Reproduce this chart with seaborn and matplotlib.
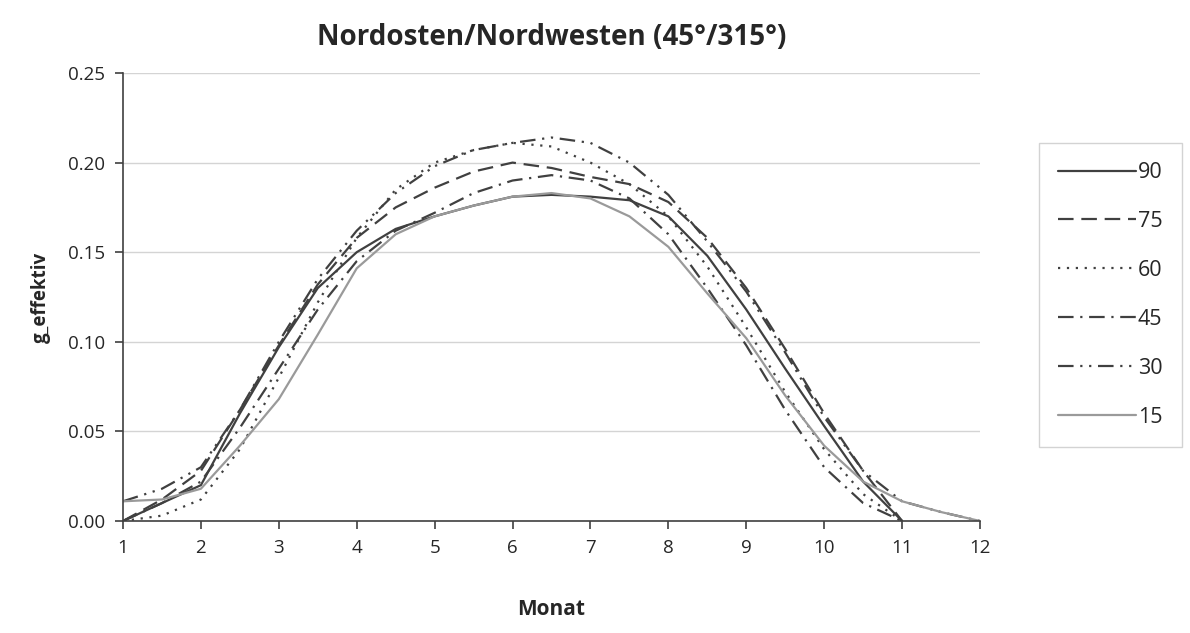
import numpy as np
import pandas as pd
import seaborn as sns
import matplotlib.pyplot as plt

# half-month steps
months = [1, 1.5, 2, 2.5, 3, 3.5, 4, 4.5, 5, 5.5, 6, 6.5, 7, 7.5, 8, 8.5, 9, 9.5, 10, 10.5, 11, 11.5, 12]

g_90 = [0.0, 0.010, 0.020, 0.060, 0.097, 0.130, 0.150, 0.163, 0.170, 0.176, 0.181, 0.182, 0.181,
        0.179, 0.170, 0.148, 0.118, 0.085, 0.053, 0.022, 0.0, None, None]
g_75 = [0.0, 0.012, 0.028, 0.062, 0.098, 0.132, 0.158, 0.175, 0.186, 0.195, 0.200, 0.197, 0.192,
        0.188, 0.178, 0.158, 0.130, 0.096, 0.060, 0.028, 0.0, None, None]
g_60 = [0.0, 0.003, 0.012, 0.040, 0.080, 0.122, 0.158, 0.185, 0.200, 0.207, 0.211, 0.209, 0.200,
        0.188, 0.170, 0.142, 0.108, 0.072, 0.040, 0.015, 0.0, None, None]
g_45 = [0.0, 0.010, 0.022, 0.052, 0.085, 0.118, 0.145, 0.162, 0.172, 0.183, 0.190, 0.193, 0.190,
        0.180, 0.160, 0.130, 0.098, 0.062, 0.030, 0.010, 0.0, None, None]
g_30 = [0.011, 0.018, 0.030, 0.062, 0.100, 0.135, 0.162, 0.183, 0.198, 0.207, 0.211, 0.214, 0.211,
        0.200, 0.182, 0.156, 0.128, 0.094, 0.058, 0.028, 0.011, 0.005, 0.0]
g_15 = [0.011, 0.012, 0.018, 0.042, 0.068, 0.104, 0.141, 0.160, 0.170, 0.176, 0.181, 0.183, 0.180,
        0.170, 0.153, 0.127, 0.102, 0.070, 0.042, 0.022, 0.011, 0.005, 0.0]

labels = ['90', '75', '60', '45', '30', '15']
series = [g_90, g_75, g_60, g_45, g_30, g_15]

dark = '#404040'
styles = {
    '90': dict(color=dark, dashes=(None, None)),
    '75': dict(color=dark, dashes=(7, 3.5)),
    '60': dict(color=dark, dashes=(1, 3)),
    '45': dict(color=dark, dashes=(7, 3, 1, 3)),
    '30': dict(color=dark, dashes=(7, 3, 1, 3, 1, 3)),
    '15': dict(color='#9a9a9a', dashes=(None, None)),
}

sns.set_theme(style='white')
plt.rcParams['font.family'] = ['Open Sans', 'DejaVu Sans']

fig = plt.figure(figsize=(11.9, 6.33), dpi=100)
ax = fig.add_axes([123 / 1190, 1 - 521 / 633, (980 - 123) / 1190, (521 - 73) / 633])

for lab, vals in zip(labels, series):
    df = pd.DataFrame({'Monat': months, 'g': vals}).dropna()
    st = styles[lab]
    line = sns.lineplot(data=df, x='Monat', y='g', ax=ax, color=st['color'], lw=1.6, label=lab)
    if st['dashes'][0] is not None:
        line.lines[-1].set_dashes(st['dashes'])

ax.set_xlim(1, 12)
ax.set_ylim(0, 0.25)
ax.set_xticks(range(1, 13))
ax.set_yticks(np.arange(0, 0.26, 0.05))
ax.set_yticklabels([f'{v:.2f}' for v in np.arange(0, 0.26, 0.05)])
ax.yaxis.grid(True, color='#d4d4d4', lw=1)
ax.set_axisbelow(True)
for s in ['top', 'right']:
    ax.spines[s].set_visible(False)
for s in ['left', 'bottom']:
    ax.spines[s].set_color('#404040')
    ax.spines[s].set_linewidth(1.2)
ax.tick_params(axis='both', which='major', direction='out', length=6, width=1.2,
               color='#404040', labelsize=13.5, pad=7, bottom=True, left=True)

ax.set_xlabel('Monat', fontsize=15, fontweight='bold', labelpad=30)
ax.set_ylabel('g_effektiv', fontsize=13.5, fontweight='bold', labelpad=12)
ax.set_title('Nordosten/Nordwesten (45°/315°)', fontsize=20, fontweight='bold', pad=20)

ax.get_legend().remove()
handles, labs = ax.get_legend_handles_labels()
for h, lab in zip(handles, labs):
    if styles[lab]['dashes'][0] is not None:
        h.set_dashes(styles[lab]['dashes'])
leg = fig.legend(handles, labs, loc='center left', bbox_to_anchor=(1028 / 1190, 1 - 295 / 633),
                 fontsize=15.5, handlelength=3.6, handletextpad=0.1, labelspacing=1.3,
                 frameon=True, fancybox=False, borderpad=0.9)
leg.get_frame().set_edgecolor('#c8c8c8')
leg.get_frame().set_linewidth(1)

fig.savefig('out.png', dpi=100)
